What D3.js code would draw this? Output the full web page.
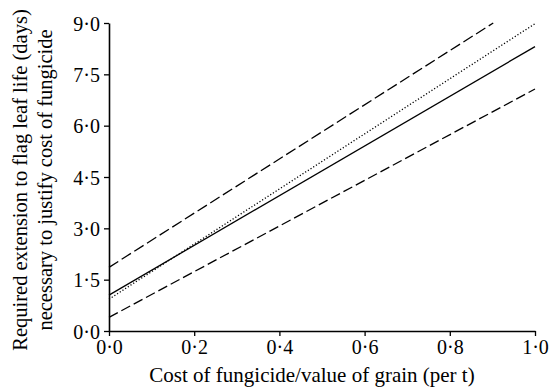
<!DOCTYPE html>
<html>
<head>
<meta charset="utf-8">
<script src="https://cdn.jsdelivr.net/npm/d3@7"></script>
</head>
<body style="margin:0">
<svg id="chart" width="549" height="390">
  <text id="xtitle" style="font-family:'Liberation Serif'; font-size:21px">Cost of fungicide/value of grain (per t)</text>
  <text id="ytitle" style="font-family:'Liberation Serif'; font-size:20.5px"><tspan id="y1">Required extension to flag leaf life (days)</tspan><tspan id="y2">necessary to justify cost of fungicide</tspan></text>
</svg>
<script>
// line end points: [x, y] at cost 0 and at the right end
var upperDash = [[0, 1.86], [0.902, 9.0]]
var meanLine  = [[0, 1.05], [1.0, 8.31]]
var dotLine   = [[0, 0.93], [1.0, 8.98]]
var lowerDash = [[0, 0.40], [1.0, 7.07]]

var xTicks = [0, 0.2, 0.4, 0.6, 0.8, 1.0]
var yTicks = [0, 1.5, 3.0, 4.5, 6.0, 7.5, 9.0]

var margin = {top: 23, right: 14, bottom: 59, left: 109},
    width  = 549 - margin.left - margin.right,
    height = 390 - margin.top - margin.bottom

var root = d3.select('#chart')
var svg = root.append('g')
            .attr('transform', 'translate(' + margin.left + ',' + margin.top + ')')

var x = d3.scaleLinear().domain([0, 1]).range([0, width])
var y = d3.scaleLinear().domain([0, 9]).range([height, 0])

// format with the middle dot used in the journal
var fmt = function(d) { return d3.format('.1f')(d).replace('.', '\u00b7') }

var xAxis = svg.append('g')
    .attr('transform', 'translate(0,' + height + ')')
    .call(d3.axisBottom(x).tickValues(xTicks).tickFormat(fmt).tickSize(5).tickSizeOuter(0))
var yAxis = svg.append('g')
    .call(d3.axisLeft(y).tickValues(yTicks).tickFormat(fmt).tickSize(5).tickSizeOuter(0))

;[xAxis, yAxis].forEach(function(a) {
  a.attr('font-family', 'Liberation Serif').attr('font-size', 20)
  a.select('.domain').attr('stroke', '#000').attr('stroke-width', 1.6)
  a.selectAll('.tick line').attr('stroke', '#000').attr('stroke-width', 1.3)
  a.selectAll('.tick text').attr('fill', '#000')
    .attr('style', "font-family:'Liberation Serif'; font-size:20px")
})
xAxis.selectAll('.tick text').attr('y', 23).attr('dy', 0)
yAxis.selectAll('.tick text').attr('x', -9).attr('dy', '0.35em')

var line = d3.line()
    .x(function(d) { return x(d[0]) })
    .y(function(d) { return y(d[1]) })

var series = [
  {pts: upperDash, dash: '11,4'},
  {pts: meanLine,  dash: null},
  {pts: dotLine,   dash: '1.2,2'},
  {pts: lowerDash, dash: '10,4'}
]

svg.selectAll('.fit')
   .data(series)
   .enter()
   .append('path')
   .attr('class', 'fit')
   .attr('d', function(d) { return line(d.pts) })
   .attr('fill', 'none')
   .attr('stroke', '#000')
   .attr('stroke-width', 1.3)
   .attr('stroke-dasharray', function(d) { return d.dash })

// axis titles
root.select('#xtitle')
    .attr('x', margin.left + width / 2 - 10)
    .attr('y', margin.top + height + 51)
    .attr('text-anchor', 'middle')

root.select('#ytitle')
    .attr('transform', 'translate(27,' + (margin.top + height / 2 + 3) + ') rotate(-90)')
    .attr('text-anchor', 'middle')
root.select('#y1').attr('x', 0).attr('dy', 0)
root.select('#y2').attr('x', 0).attr('dy', 25)
</script>
</body>
</html>
